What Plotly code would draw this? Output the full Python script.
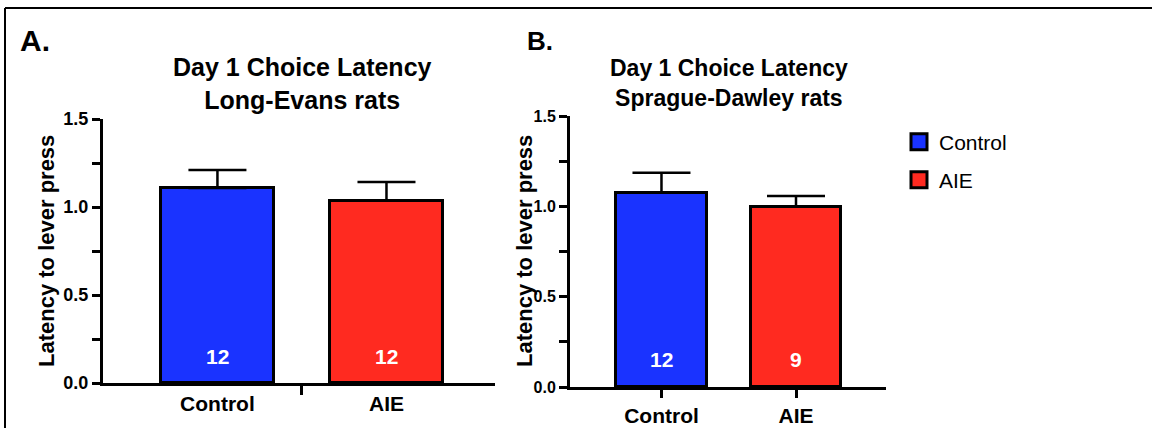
import plotly.graph_objects as go

# Day 1 choice latency, mean ± SEM, with group sizes
groups = ["Control", "AIE"]
le_mean = [1.108, 1.036]
le_sem = [0.102, 0.106]
le_n = [12, 12]
sd_mean = [1.075, 0.998]
sd_sem = [0.111, 0.059]
sd_n = [12, 9]

colors = {"Control": "#1A33FF", "AIE": "#FF2A20"}

W, H = 1152, 428
FONT = "Liberation Sans, Arial, sans-serif"


def px_x(p):
    return p / W


def px_y(p):
    return 1 - p / H


fig = go.Figure()

panels = [
    dict(mean=le_mean, sem=le_sem, n=le_n, xa="x", ya="y"),
    dict(mean=sd_mean, sem=sd_sem, n=sd_n, xa="x2", ya="y2"),
]

for p in panels:
    for i, g in enumerate(groups):
        fig.add_trace(go.Bar(
            x=[i], y=[p["mean"][i]], name=g, width=0.67,
            marker=dict(color=colors[g], line=dict(color="black", width=3)),
            error_y=dict(type="data", symmetric=False, array=[p["sem"][i]],
                         arrayminus=[0], color="black", thickness=2.5, width=29),
            xaxis=p["xa"], yaxis=p["ya"], showlegend=False, hoverinfo="skip",
        ))
        # group size printed inside the bar
        fig.add_annotation(
            x=i, y=0.15, xref=p["xa"], yref=p["ya"], text=f"<b>{p['n'][i]}</b>",
            xanchor="center", yanchor="middle", showarrow=False,
            font=dict(family=FONT, size=21, color="white"),
        )

# legend swatches (one legend per group so each row sits where it should)
for g, lg in zip(groups, ["legend", "legend2"]):
    fig.add_trace(go.Scatter(
        x=[None], y=[None], mode="markers", name=g, legend=lg,
        marker=dict(symbol="square", size=16, color=colors[g],
                    line=dict(color="black", width=3)),
        xaxis="x2", yaxis="y2", hoverinfo="skip",
    ))

yaxis_common = dict(
    range=[0, 1.5], tickvals=[0, 0.5, 1.0, 1.5], ticktext=["0.0", "0.5", "1.0", "1.5"],
    ticks="outside", ticklen=8, tickwidth=3, tickcolor="black",
    minor=dict(tickvals=[0.25, 0.75, 1.25], ticks="outside", ticklen=8,
               tickwidth=3, tickcolor="black"),
    showline=True, linewidth=3, linecolor="black", showgrid=False, zeroline=False,
    fixedrange=True,
)

legend_common = dict(
    xanchor="left", yanchor="middle", itemsizing="trace",
    font=dict(family=FONT, size=21, color="black"),
    bgcolor="rgba(0,0,0,0)", itemclick=False, itemdoubleclick=False,
)

fig.update_layout(
    width=W, height=H,
    margin=dict(l=0, r=0, t=0, b=0, pad=0, autoexpand=False),
    paper_bgcolor="white", plot_bgcolor="white",
    bargap=0,
    xaxis=dict(
        domain=[px_x(103), px_x(495)], range=[-0.677, 1.642],
        tickvals=[0, 1], ticktext=["<b>Control</b>", "<b>AIE</b>"],
        ticks="", 
        minor=dict(tickvals=[0.5], ticks="outside", ticklen=9, tickwidth=3,
                   tickcolor="black"),
        tickfont=dict(family=FONT, size=21, color="black"),
        showline=True, linewidth=3, linecolor="black", showgrid=False,
        zeroline=False, anchor="y", fixedrange=True,
    ),
    yaxis=dict(
        domain=[px_y(383), px_y(119)], anchor="x",
        tickfont=dict(family=FONT, size=18, color="black", weight="bold"),
        **yaxis_common,
    ),
    xaxis2=dict(
        domain=[px_x(570), px_x(886)], range=[-0.68, 1.669],
        tickvals=[0, 1], ticktext=["<b>Control</b>", "<b>AIE</b>"],
        ticks="outside", ticklen=8, tickwidth=3, tickcolor="black",
        tickfont=dict(family=FONT, size=21, color="black"),
        showline=True, linewidth=3, linecolor="black", showgrid=False,
        zeroline=False, anchor="y2", fixedrange=True,
    ),
    yaxis2=dict(
        domain=[px_y(387), px_y(116)], anchor="x2",
        tickfont=dict(family=FONT, size=16, color="black", weight="bold"),
        **yaxis_common,
    ),
    legend=dict(x=px_x(899), y=px_y(142), **legend_common),
    legend2=dict(x=px_x(899), y=px_y(180), **legend_common),
    showlegend=True,
)


def label(xc, yc, text, size, angle=0):
    fig.add_annotation(x=px_x(xc), y=px_y(yc), xref="paper", yref="paper",
                       xanchor="center", yanchor="middle", text=text, textangle=angle,
                       showarrow=False, font=dict(family=FONT, size=size, color="black"))


# panel letters, titles and y-axis titles
label(35, 40, "<b>A.</b>", 30)
label(540, 41, "<b>B.</b>", 26)
label(302, 83, "<b>Day 1 Choice Latency<br>Long-Evans rats</b>", 25)
label(729, 83, "<b>Day 1 Choice Latency<br>Sprague-Dawley rats</b>", 23)
label(46, 251, "<b>Latency to lever press</b>", 22, -90)
label(524, 251, "<b>Latency to lever press</b>", 22, -90)

# figure frame (top and left edges)
fig.add_shape(type="line", xref="paper", yref="paper", x0=px_x(5), x1=1, y0=px_y(8), y1=px_y(8),
              line=dict(color="black", width=2))
fig.add_shape(type="line", xref="paper", yref="paper", x0=px_x(5), x1=px_x(5), y0=0, y1=px_y(8),
              line=dict(color="black", width=2))

fig.write_html("out.html")
